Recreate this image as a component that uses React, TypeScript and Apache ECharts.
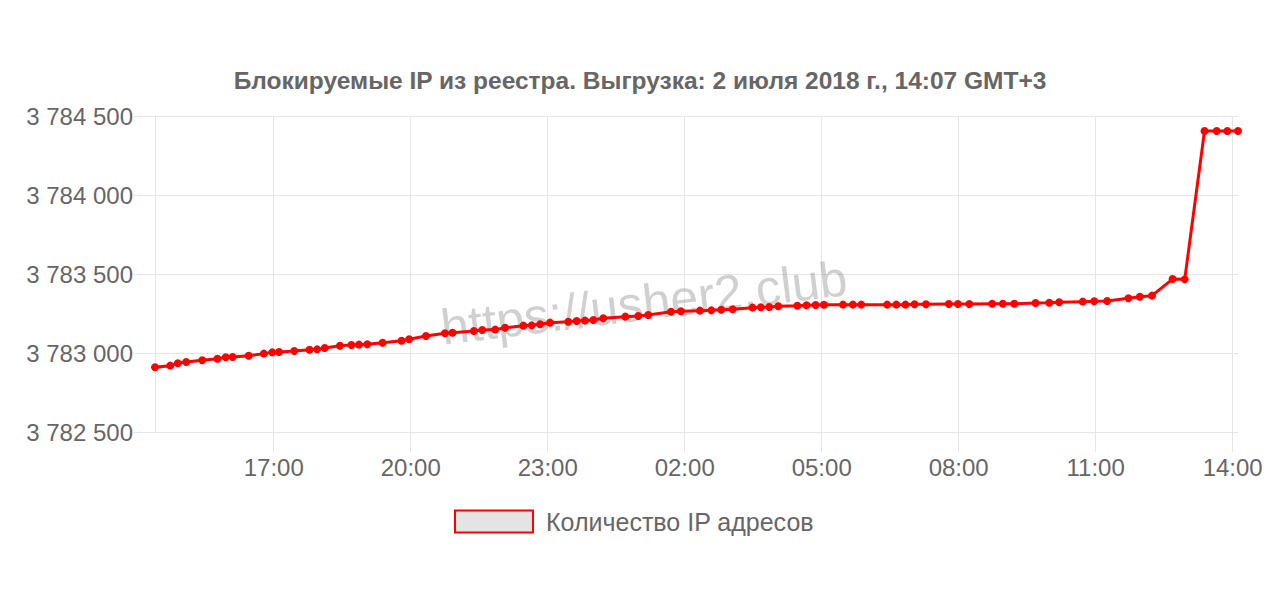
import React, { useEffect, useRef } from "react";
import * as echarts from "echarts";

// Sample times (local GMT+3) and registry IP counts
const times: string[] = [
  "2018-07-01 14:24", "2018-07-01 14:44", "2018-07-01 14:54", "2018-07-01 15:05", "2018-07-01 15:26",
  "2018-07-01 15:46", "2018-07-01 15:57", "2018-07-01 16:06", "2018-07-01 16:27", "2018-07-01 16:47",
  "2018-07-01 16:58", "2018-07-01 17:07", "2018-07-01 17:27", "2018-07-01 17:47", "2018-07-01 17:57",
  "2018-07-01 18:07", "2018-07-01 18:27", "2018-07-01 18:42", "2018-07-01 18:52", "2018-07-01 19:03",
  "2018-07-01 19:23", "2018-07-01 19:48", "2018-07-01 19:58", "2018-07-01 20:20", "2018-07-01 20:45",
  "2018-07-01 20:55", "2018-07-01 21:23", "2018-07-01 21:34", "2018-07-01 21:51", "2018-07-01 22:04",
  "2018-07-01 22:28", "2018-07-01 22:39", "2018-07-01 22:50", "2018-07-01 23:03", "2018-07-01 23:27",
  "2018-07-01 23:38", "2018-07-01 23:49", "2018-07-02 00:00", "2018-07-02 00:13", "2018-07-02 00:42",
  "2018-07-02 00:59", "2018-07-02 01:12", "2018-07-02 01:42", "2018-07-02 01:55", "2018-07-02 02:20",
  "2018-07-02 02:35", "2018-07-02 02:48", "2018-07-02 03:03", "2018-07-02 03:29", "2018-07-02 03:40",
  "2018-07-02 03:51", "2018-07-02 04:03", "2018-07-02 04:28", "2018-07-02 04:40", "2018-07-02 04:52",
  "2018-07-02 05:03", "2018-07-02 05:28", "2018-07-02 05:41", "2018-07-02 05:52", "2018-07-02 06:26",
  "2018-07-02 06:38", "2018-07-02 06:50", "2018-07-02 07:02", "2018-07-02 07:17", "2018-07-02 07:47",
  "2018-07-02 07:59", "2018-07-02 08:14", "2018-07-02 08:44", "2018-07-02 08:58", "2018-07-02 09:13",
  "2018-07-02 09:41", "2018-07-02 09:59", "2018-07-02 10:12", "2018-07-02 10:43", "2018-07-02 10:58",
  "2018-07-02 11:15", "2018-07-02 11:43", "2018-07-02 11:58", "2018-07-02 12:14", "2018-07-02 12:41",
  "2018-07-02 12:57", "2018-07-02 13:23", "2018-07-02 13:39", "2018-07-02 13:53", "2018-07-02 14:07",
];

const counts: number[] = [
  3782910, 3782920, 3782935, 3782943, 3782954,
  3782964, 3782973, 3782975, 3782983, 3782996,
  3783004, 3783006, 3783013, 3783021, 3783023,
  3783032, 3783046, 3783051, 3783053, 3783055,
  3783065, 3783078, 3783087, 3783108, 3783125,
  3783128, 3783139, 3783146, 3783148, 3783160,
  3783173, 3783175, 3783182, 3783192, 3783198,
  3783203, 3783205, 3783209, 3783220, 3783230,
  3783234, 3783241, 3783261, 3783264, 3783268,
  3783270, 3783274, 3783277, 3783287, 3783289,
  3783291, 3783296, 3783299, 3783302, 3783304,
  3783305, 3783306, 3783306, 3783306, 3783306,
  3783306, 3783306, 3783308, 3783308, 3783310,
  3783310, 3783310, 3783312, 3783312, 3783312,
  3783316, 3783318, 3783321, 3783325, 3783327,
  3783329, 3783346, 3783356, 3783363, 3783468,
  3783466, 3784405, 3784405, 3784405, 3784405,
];

const tickTimes: string[] = [
  "2018-07-01 17:00", "2018-07-01 20:00", "2018-07-01 23:00", "2018-07-02 02:00",
  "2018-07-02 05:00", "2018-07-02 08:00", "2018-07-02 11:00", "2018-07-02 14:00",
];

const yTicks: number[] = [3782500, 3783000, 3783500, 3784000, 3784500];

const titleText = "Блокируемые IP из реестра. Выгрузка: 2 июля 2018 г., 14:07 GMT+3";
const seriesName = "Количество IP адресов";
const watermark = "https://usher2.club";

const toMinutes = (s: string): number => {
  const day = parseInt(s.slice(8, 10), 10);
  const h = parseInt(s.slice(11, 13), 10);
  const m = parseInt(s.slice(14, 16), 10);
  return (day - 1) * 1440 + h * 60 + m;
};

const fmtTime = (v: number): string => {
  const mm = ((Math.round(v) % 1440) + 1440) % 1440;
  const h = Math.floor(mm / 60);
  const m = mm % 60;
  return String(h).padStart(2, "0") + ":" + String(m).padStart(2, "0");
};

const fmtNum = (v: number): string =>
  String(Math.round(v)).replace(/\B(?=(\d{3})+(?!\d))/g, " ");

export default function App() {
  const ref = useRef<HTMLDivElement>(null);

  useEffect(() => {
    document.body.style.margin = "0";
    if (!ref.current) return;
    const chart = echarts.init(ref.current, undefined, { renderer: "svg" });
    const data = times.map((t, i) => [toMinutes(t), counts[i]]);
    const xs = data.map((d) => d[0]);
    const tickVals = tickTimes.map(toMinutes);
    const gridColor = "#e6e6e6";
    const font = "'Liberation Sans', Arial, Helvetica, sans-serif";

    chart.setOption({
      animation: false,
      backgroundColor: "#ffffff",
      textStyle: { fontFamily: font },
      title: {
        text: titleText,
        left: "center",
        top: 68,
        padding: 0,
        textStyle: { fontSize: 24.5, fontWeight: "bold", color: "#666666", fontFamily: font },
      },
      legend: {
        left: 454,
        top: 509,
        padding: 0,
        itemWidth: 78,
        itemHeight: 22,
        data: [
          {
            name: seriesName,
            icon: "rect",
            itemStyle: { color: "#e4e4e4", borderColor: "#ff0000", borderWidth: 2 },
          },
        ],
        textStyle: { fontSize: 25, color: "#666666", fontFamily: font, padding: [0, 0, 0, 8] },
      },
      grid: { left: 155, right: 42, top: 116, bottom: 163, containLabel: false },
      xAxis: {
        type: "value",
        min: Math.min(...xs),
        max: Math.max(...xs),
        axisLine: { show: false },
        axisTick: {
          show: true,
          length: 20,
          customValues: tickVals,
          lineStyle: { color: gridColor, width: 1 },
        },
        axisLabel: {
          customValues: tickVals,
          formatter: (v: number) => fmtTime(v),
          fontSize: 24,
          color: "#666666",
          margin: 23,
          fontFamily: font,
        },
        splitLine: { show: true, lineStyle: { color: gridColor, width: 1 } },
      },
      yAxis: {
        type: "value",
        min: yTicks[0],
        max: yTicks[yTicks.length - 1],
        interval: yTicks[1] - yTicks[0],
        axisLine: { show: true, lineStyle: { color: gridColor, width: 1 } },
        axisTick: { show: true, length: 21, lineStyle: { color: gridColor, width: 1 } },
        axisLabel: {
          formatter: (v: number) => fmtNum(v),
          fontSize: 24,
          color: "#666666",
          margin: 22,
          fontFamily: font,
        },
        splitLine: { show: true, lineStyle: { color: gridColor, width: 1 } },
      },
      graphic: [
        {
          type: "text",
          x: 644,
          y: 303,
          rotation: (7 * Math.PI) / 180,
          z: 1,
          style: {
            text: watermark,
            fontSize: 50,
            fontFamily: font,
            fill: "rgba(120,120,120,0.35)",
            textAlign: "center",
            textVerticalAlign: "middle",
          },
        },
      ],
      series: [
        {
          name: seriesName,
          type: "line",
          data,
          symbol: "circle",
          symbolSize: 8,
          z: 5,
          lineStyle: { color: "#ff0000", width: 3 },
          itemStyle: { color: "#ff0000" },
        },
      ],
    });

    return () => chart.dispose();
  }, []);

  return <div ref={ref} style={{ width: 1280, height: 595 }} />;
}
